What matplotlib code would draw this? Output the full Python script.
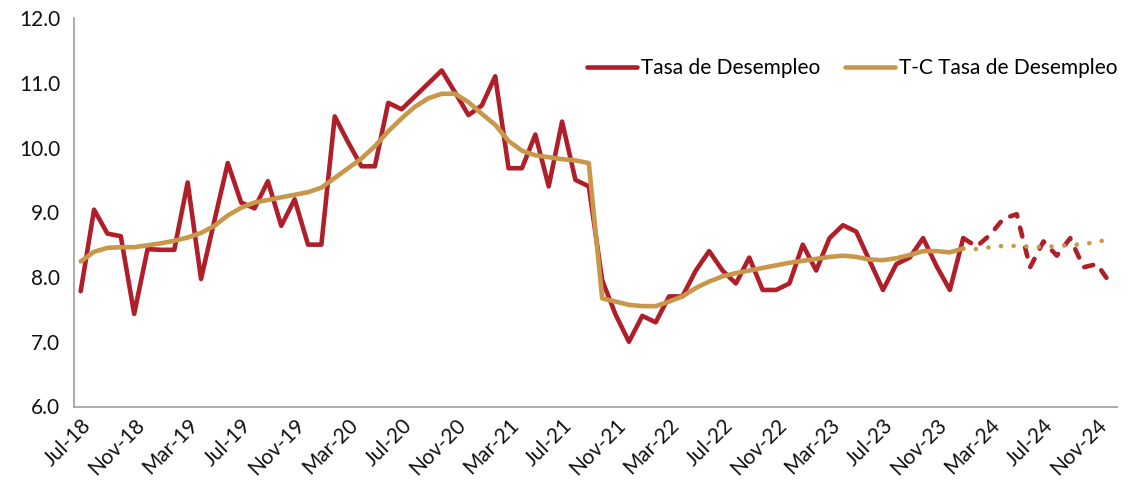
import numpy as np
import matplotlib
matplotlib.use("Agg")
from matplotlib import pyplot as plt

# --------- DATA (monthly, Jul-18 .. Dec-24) ---------

tasa = [7.78, 9.04, 8.67, 8.63, 7.43, 8.43, 8.42, 8.42, 9.46, 7.97, 8.87, 9.76,
        9.15, 9.06, 9.48, 8.79, 9.20, 8.50, 8.50, 10.48, 10.08, 9.71, 9.71, 10.69,
        10.59, 10.79, 10.99, 11.19, 10.85, 10.50, 10.65, 11.10, 9.68, 9.68, 10.20, 9.40,
        10.40, 9.50, 9.40, 7.95, 7.42, 7.00, 7.40, 7.30, 7.70, 7.70, 8.10, 8.40,
        8.10, 7.90, 8.30, 7.80, 7.80, 7.90, 8.50, 8.10, 8.60, 8.80, 8.70, 8.25,
        7.80, 8.20, 8.30, 8.60, 8.17, 7.80, 8.60, 8.47, 8.65, 8.90, 8.97, 8.15,
        8.55, 8.33, 8.60, 8.15, 8.20, 7.90]

tc_tasa = [8.24, 8.39, 8.45, 8.46, 8.46, 8.49, 8.52, 8.56, 8.61, 8.68, 8.79, 8.95,
           9.07, 9.15, 9.19, 9.23, 9.27, 9.31, 9.38, 9.53, 9.68, 9.83, 10.02, 10.25,
           10.45, 10.63, 10.76, 10.83, 10.83, 10.70, 10.52, 10.35, 10.10, 9.95, 9.88, 9.85,
           9.82, 9.80, 9.76, 7.67, 7.62, 7.57, 7.55, 7.55, 7.62, 7.70, 7.83, 7.93,
           8.01, 8.06, 8.10, 8.14, 8.18, 8.22, 8.25, 8.28, 8.31, 8.33, 8.31, 8.27,
           8.26, 8.29, 8.34, 8.40, 8.40, 8.38, 8.44, 8.43, 8.46, 8.48, 8.48, 8.47,
           8.46, 8.48, 8.49, 8.51, 8.54, 8.59]

# last observed month (Jan-24); after that the series is drawn dashed / dotted
last_obs = 66

tick_labels = ['Jul-18', 'Nov-18', 'Mar-19', 'Jul-19', 'Nov-19', 'Mar-20', 'Jul-20',
               'Nov-20', 'Mar-21', 'Jul-21', 'Nov-21', 'Mar-22', 'Jul-22', 'Nov-22',
               'Mar-23', 'Jul-23', 'Nov-23', 'Mar-24', 'Jul-24', 'Nov-24']

# -----------------------------------

plt.rcParams['font.family'] = ['Lato', 'DejaVu Sans']

RED = '#B01F29'
GOLD = '#C8974A'
LW = 3.3
FS = 15

fig = plt.figure(figsize=(11.32, 4.91), dpi=100)
ax = fig.add_axes([74 / 1132, 1 - 406.5 / 491, 1043 / 1132, (406.5 - 18) / 491])

x = np.arange(len(tasa))
xs, xd = x[:last_obs + 1], x[last_obs:]

ax.plot(xs, tasa[:last_obs + 1], color=RED, lw=LW, solid_joinstyle='round',
        solid_capstyle='round', label='Tasa de Desempleo', zorder=2)
ax.plot(xd, tasa[last_obs:], color=RED, lw=LW, dashes=(2.0, 2.5),
        dash_capstyle='round', dash_joinstyle='round', zorder=2)
ax.plot(xs, tc_tasa[:last_obs + 1], color=GOLD, lw=LW, solid_joinstyle='round',
        solid_capstyle='round', label='T-C Tasa de Desempleo', zorder=3)
ax.plot(xd, tc_tasa[last_obs:], color=GOLD, lw=LW, dashes=(0.01, 2.75),
        dash_capstyle='round', zorder=3)

ax.set_xlim(-0.5, len(tasa) - 0.5)
ax.set_ylim(6, 12)
ax.set_yticks(np.arange(6, 12.1, 1))
ax.set_yticklabels(['{0:.1f}'.format(v) for v in np.arange(6, 12.1, 1)])
ax.set_xticks(x[::4])
ax.set_xticklabels(tick_labels, rotation=45, ha='right', va='top',
                   rotation_mode='anchor')
ax.tick_params(axis='both', length=0, labelsize=FS, colors='#111111')
ax.tick_params(axis='y', pad=10)
ax.tick_params(axis='x', pad=6)

for side in ('top', 'right'):
    ax.spines[side].set_visible(False)
for side in ('left', 'bottom'):
    ax.spines[side].set_color('#A6A6A6')
    ax.spines[side].set_linewidth(1.3)

fig.legend(loc='center right', bbox_to_anchor=(1126 / 1132, 1 - 68 / 491),
           ncol=2, frameon=False, fontsize=FS, handlelength=2.4,
           handletextpad=0.2, columnspacing=1.2, borderaxespad=0)

fig.savefig("out.png", dpi=100)
